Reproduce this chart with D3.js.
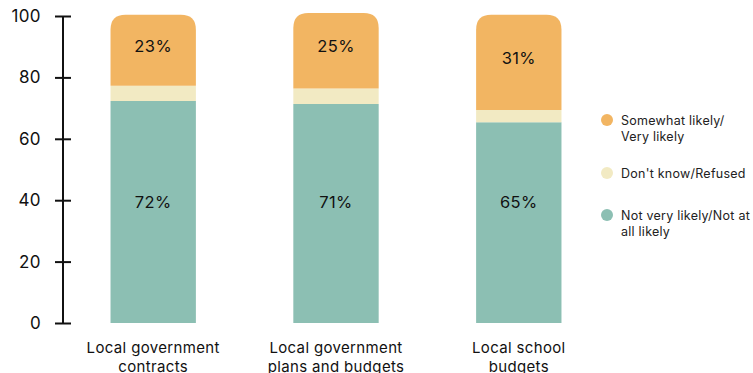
<!DOCTYPE html>
<html>
<head>
<meta charset="utf-8">
<script src="https://cdn.jsdelivr.net/npm/d3@7"></script>
<style>
  body { margin: 0; background: #fff; }
  svg { display: block; font-family: Inter, "Noto Sans", sans-serif; }
</style>
</head>
<body>
<svg id="chart" width="753" height="373"></svg>
<script>
const CATEGORIES = [
  ["Local government", "contracts"],
  ["Local government", "plans and budgets"],
  ["Local school", "budgets"],
];
// unrounded shares; labels show them rounded
const NOT_LIKELY = [72.3, 71.3, 65.4];
const DONT_KNOW = [5.0, 5.1, 4.0];
const LIKELY = [23.1, 24.6, 31.0];
const SERIES = [
  { key: "notLikely", label: ["Not very likely/Not at", "all likely"], values: NOT_LIKELY, color: "#8cbfb3", showLabel: true },
  { key: "dontKnow", label: ["Don't know/Refused"], values: DONT_KNOW, color: "#f2eac3", showLabel: false },
  { key: "likely", label: ["Somewhat likely/", "Very likely"], values: LIKELY, color: "#f2b562", showLabel: true },
];
const Y_TICKS = [0, 20, 40, 60, 80, 100];

const svg = d3.select("#chart");
const margin = { top: 16, bottom: 50 };
const height = 373;

const rows = CATEGORIES.map((cat, i) => {
  const row = { index: i };
  for (const s of SERIES) row[s.key] = s.values[i];
  return row;
});
const stacked = d3.stack().keys(SERIES.map((s) => s.key))(rows);

const x = d3.scaleBand().domain(d3.range(CATEGORIES.length)).range([63, 609]).paddingInner(0.533).paddingOuter(0.26);
const y = d3.scaleLinear().domain([0, 100]).range([height - margin.bottom, margin.top]);

// y axis
const yAxis = svg.append("g").attr("transform", "translate(63,0)")
  .call(d3.axisLeft(y).tickValues(Y_TICKS).tickSize(8).tickPadding(14));
yAxis.select(".domain").attr("stroke", "#111").attr("stroke-width", 2)
  .attr("d", `M0,${y(0)}V${y(100)}`);
yAxis.selectAll(".tick line").attr("x2", 8).attr("x1", -8).attr("stroke", "#111").attr("stroke-width", 2);
yAxis.selectAll(".tick text").attr("font-size", 17).attr("letter-spacing", 0.4)
  .attr("fill", "#111").attr("font-family", "Inter, sans-serif");

const R = 15;
function segmentPath(x0, w, yTop, yBot, rounded) {
  if (!rounded) return `M${x0},${yBot}V${yTop}H${x0 + w}V${yBot}Z`;
  return `M${x0},${yBot}V${yTop + R}Q${x0},${yTop} ${x0 + R},${yTop}H${x0 + w - R}Q${x0 + w},${yTop} ${x0 + w},${yTop + R}V${yBot}Z`;
}

const layers = svg.append("g").selectAll("g").data(stacked).join("g")
  .attr("fill", (d, i) => SERIES[i].color);
layers.selectAll("path").data((d) => d).join("path")
  .attr("d", (d, i, nodes) => {
    const top = d3.select(nodes[i].parentNode).datum().index === SERIES.length - 1;
    return segmentPath(x(i), x.bandwidth(), y(d[1]), y(d[0]), top);
  });

// value labels
stacked.forEach((layer, li) => {
  if (!SERIES[li].showLabel) return;
  svg.append("g").selectAll("text").data(layer).join("text")
    .attr("x", (d, i) => x(i) + x.bandwidth() / 2)
    .attr("y", (d) => li === 0 ? y(39.5) : y((d[0] + d[1]) / 2 + 1.5))
    .attr("text-anchor", "middle")
    .attr("dominant-baseline", "central")
    .attr("font-size", 16.5)
    .attr("letter-spacing", 0.4)
    .attr("fill", "#111")
    .text((d) => `${Math.round(d[1] - d[0])}%`);
});

// category labels
svg.append("g").selectAll("text").data(CATEGORIES).join("text")
  .attr("x", (d, i) => x(i) + x.bandwidth() / 2)
  .attr("y", y(0) + 30)
  .attr("text-anchor", "middle")
  .attr("font-size", 15)
  .attr("letter-spacing", 0.35)
  .attr("fill", "#111")
  .selectAll("tspan").data((d) => d).join("tspan")
  .attr("x", function () { return d3.select(this.parentNode).attr("x"); })
  .attr("dy", (d, i) => i === 0 ? 0 : 18.5)
  .text((d) => d);

// legend
const legendItems = [SERIES[2], SERIES[1], SERIES[0]];
const legendY = [120, 173, 215];
const legend = svg.append("g").selectAll("g").data(legendItems).join("g")
  .attr("transform", (d, i) => `translate(607,${legendY[i]})`);
legend.append("circle").attr("r", 6).attr("fill", (d) => d.color);
legend.append("text")
  .attr("x", 14)
  .attr("y", 4.5)
  .attr("font-size", 12.5)
  .attr("letter-spacing", 0.25)
  .attr("fill", "#222")
  .selectAll("tspan").data((d) => d.label).join("tspan")
  .attr("x", 14)
  .attr("dy", (d, i) => i === 0 ? 0 : 16)
  .text((d) => d);
</script>
</body>
</html>
